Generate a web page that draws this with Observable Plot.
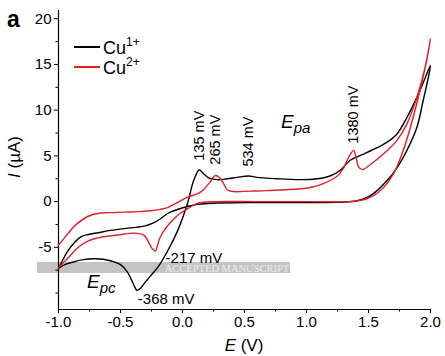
<!DOCTYPE html>
<html>
<head>
<meta charset="utf-8">
<script src="https://cdn.jsdelivr.net/npm/d3@7"></script>
<script src="https://cdn.jsdelivr.net/npm/@observablehq/plot@0.6"></script>
<style>
  body { margin: 0; background: #fff; }
  #chart { width: 445px; height: 356px; }
</style>
</head>
<body>
<div id="chart"></div>
<script>
// Cyclic voltammograms: potential E (V) vs current I (µA)
const xDomain = [-1, 2];
const yDomain = [-11.8, 20.9];
const xTicks = [-1, -0.5, 0, 0.5, 1, 1.5, 2];
const xMinorTicks = [-0.75, -0.25, 0.25, 0.75, 1.25, 1.75];
const yTicks = [-5, 0, 5, 10, 15, 20];
const yMinorTicks = [-10, -7.5, -2.5, 2.5, 7.5, 12.5, 17.5];

const seriesNames = ["Cu1+", "Cu2+"];

// Cu1+ loop: [E (V), I (µA)]
const cu1 = [
  [-1.00,-7.3],[-0.95,-6.9],[-0.88,-6.6],[-0.80,-6.35],[-0.72,-6.25],[-0.64,-6.3],
  [-0.56,-6.55],[-0.50,-6.9],[-0.45,-7.6],[-0.42,-8.3],[-0.39,-9.2],[-0.368,-9.7],
  [-0.34,-9.5],[-0.30,-8.8],[-0.25,-8.0],[-0.20,-7.2],[-0.12,-5.4],[-0.04,-3.2],
  [0.04,-0.2],[0.09,2.3],[0.135,3.45],[0.17,3.05],[0.21,2.6],[0.28,2.4],[0.36,2.5],
  [0.44,2.65],[0.534,2.8],[0.60,2.65],[0.76,2.5],[0.95,2.4],[1.09,2.5],[1.19,2.8],
  [1.27,3.4],[1.35,4.5],[1.41,4.9],[1.46,5.2],[1.57,5.9],[1.65,6.5],[1.73,7.4],
  [1.81,9.2],[1.89,11.4],[1.95,13.3],[2.0,14.9],
  [1.97,12.8],[1.94,11.0],[1.89,8.1],[1.81,5.6],[1.73,3.7],[1.65,2.3],[1.57,1.2],
  [1.49,0.45],[1.41,0.1],[1.30,-0.05],[1.0,-0.1],[0.6,-0.1],[0.30,-0.15],[0.20,-0.2],
  [0.12,-0.3],[0.066,-0.45],[-0.016,-0.75],[-0.07,-1.0],[-0.12,-1.3],[-0.18,-1.9],
  [-0.23,-2.3],[-0.30,-2.65],[-0.40,-2.85],[-0.47,-2.95],[-0.58,-3.15],[-0.68,-3.4],
  [-0.76,-3.6],[-0.82,-3.85],[-0.88,-4.6],[-0.93,-5.5],[-0.97,-6.5],[-1.0,-7.3]
];

// Cu2+ loop: [E (V), I (µA)]
const cu2 = [
  [-1.0,-4.75],[-0.96,-4.1],[-0.925,-3.5],[-0.88,-2.8],[-0.84,-2.3],[-0.76,-1.6],
  [-0.66,-1.25],[-0.55,-1.2],[-0.47,-1.15],[-0.35,-1.1],[-0.26,-1.0],[-0.18,-0.85],
  [-0.12,-0.65],[-0.04,-0.1],[0.04,0.5],[0.12,0.85],[0.17,1.3],[0.22,2.1],[0.265,2.85],
  [0.30,2.6],[0.33,2.0],[0.36,1.3],[0.41,1.1],[0.55,1.15],[0.68,1.2],[0.95,1.4],
  [1.05,1.6],[1.14,2.0],[1.25,2.8],[1.30,3.7],[1.35,5.1],[1.38,5.6],[1.40,4.8],
  [1.42,3.8],[1.45,3.5],[1.51,4.0],[1.62,5.2],[1.73,6.7],[1.81,8.5],[1.89,11.4],
  [1.955,14.6],[2.0,17.8],
  [1.97,15.5],[1.94,13.6],[1.86,9.2],[1.78,5.6],[1.70,3.0],[1.62,1.5],[1.54,0.65],
  [1.46,0.2],[1.35,0.0],[1.0,0.0],[0.6,0.0],[0.25,0.0],[0.12,-0.2],[0.04,-0.8],
  [-0.02,-1.3],[-0.07,-1.9],[-0.13,-2.8],[-0.18,-3.9],[-0.20,-4.7],[-0.217,-5.4],
  [-0.24,-5.2],[-0.26,-4.8],[-0.31,-3.7],[-0.39,-3.45],[-0.52,-3.65],[-0.66,-3.9],
  [-0.76,-4.3],[-0.84,-5.0],[-0.925,-6.2],[-0.97,-6.8],[-1.0,-7.25]
];

// Peak potentials (mV)
const anodicPeaks = [135, 265, 534, 1380];
const cathodicPeaks = [-217, -368];

const colors = ["#000000", "#e41e26"];
const font = "Liberation Sans, Arial, Helvetica, sans-serif";

const toRows = (pts, name) => pts.map(([E, I]) => ({E, I, name}));

// label placement beside each peak (anchor current in µA, horizontal nudge in px)
const anodicLayout = [
  {I: 4.15, dx: -3}, {I: 4.15, dx: 1}, {I: 4.05, dx: 2}, {I: 5.9, dx: -4}
];
const cathodicLayout = [
  {I: -6.75, dx: 10}, {I: -11.25, dx: 1}
];

const plot = Plot.plot({
  width: 445,
  height: 356,
  marginLeft: 58,
  marginRight: 15,
  marginTop: 10,
  marginBottom: 47,
  style: {fontFamily: font, fontSize: "15px", color: "#000", background: "#fff", overflow: "visible"},
  x: {domain: xDomain, label: null},
  y: {domain: yDomain, label: null},
  marks: [
    Plot.axisX(xTicks, {tickSize: 4, tickPadding: 3, tickFormat: d => d.toFixed(1), fontSize: 15, label: null}),
    Plot.axisX(xMinorTicks, {tickSize: 2.5, tickFormat: () => "", label: null}),
    Plot.axisY(yTicks, {tickSize: 4, tickPadding: 3, tickFormat: d => String(d), fontSize: 15, label: null}),
    Plot.axisY(yMinorTicks, {tickSize: 2.5, tickFormat: () => "", label: null}),
    Plot.ruleX([xDomain[0]], {stroke: "#000", strokeWidth: 1.2}),
    Plot.ruleY([yDomain[0]], {stroke: "#000", strokeWidth: 1.2}),
    Plot.line(toRows(cu1, seriesNames[0]), {x: "E", y: "I", stroke: colors[0], strokeWidth: 1.4, curve: "catmull-rom"}),
    Plot.line(toRows(cu2, seriesNames[1]), {x: "E", y: "I", stroke: colors[1], strokeWidth: 1.4, curve: "catmull-rom"}),
    ...anodicPeaks.map((mV, i) => Plot.text([mV], {
      x: d => d / 1000, y: () => anodicLayout[i].I, text: d => `${d} mV`,
      rotate: -90, textAnchor: "start", dx: 0, dy: anodicLayout[i].dx,
      fontSize: 14.5, fill: "#000"
    })),
    ...cathodicPeaks.map((mV, i) => Plot.text([mV], {
      x: d => d / 1000, y: () => cathodicLayout[i].I, text: d => `${d} mV`,
      textAnchor: "start", lineAnchor: "bottom", dx: cathodicLayout[i].dx,
      fontSize: 15, fill: "#000"
    }))
  ]
});

document.getElementById("chart").appendChild(plot);

const svg = d3.select(plot);

// watermark band beneath the curves
const band = svg.insert("g", "g");
band.append("rect")
  .attr("x", 37).attr("y", 262).attr("width", 253).attr("height", 11)
  .attr("fill", "#c3c3c3");
band.append("text")
  .attr("x", 227).attr("y", 271.5).attr("text-anchor", "middle")
  .attr("font-family", "Liberation Serif, DejaVu Serif, serif").attr("font-size", 10.5)
  .attr("fill", "#ededed").text("ACCEPTED MANUSCRIPT");

// panel letter
svg.append("text").attr("x", 7).attr("y", 27).attr("text-anchor", "start")
  .attr("font-family", font).attr("font-weight", "bold").attr("font-size", 23).text("a");

// axis titles
const xt = svg.append("text").attr("x", 244).attr("y", 351).attr("text-anchor", "middle")
  .attr("font-family", font).attr("font-size", 17);
xt.append("tspan").attr("font-style", "italic").text("E");
xt.append("tspan").text(" (V)");

const yt = svg.append("text").attr("transform", "translate(20,157) rotate(-90)").attr("text-anchor", "middle")
  .attr("font-family", font).attr("font-size", 17);
yt.append("tspan").attr("font-style", "italic").text("I");
yt.append("tspan").text(" (\u00b5A)");

// E_pa / E_pc labels
function subLabel(x, y, sub) {
  const t = svg.append("text").attr("x", x).attr("y", y).attr("text-anchor", "start")
    .attr("font-family", font).attr("font-style", "italic").attr("font-size", 19);
  t.append("tspan").text("E");
  t.append("tspan").attr("font-size", 15).attr("dy", 5).text(sub);
}
subLabel(281, 128, "pa");
subLabel(87, 288, "pc");

// legend
const legend = svg.append("g").attr("font-family", font).attr("text-anchor", "start");
seriesNames.forEach((name, i) => {
  const y = 47 + i * 20;
  legend.append("line").attr("x1", 74).attr("x2", 100).attr("y1", y).attr("y2", y)
    .attr("stroke", colors[i]).attr("stroke-width", 2);
  const t = legend.append("text").attr("x", 103).attr("y", y + 7).attr("font-size", 18);
  t.append("tspan").text("Cu");
  t.append("tspan").attr("font-size", 12).attr("dy", -8).text(name.slice(2));
});
</script>
</body>
</html>
